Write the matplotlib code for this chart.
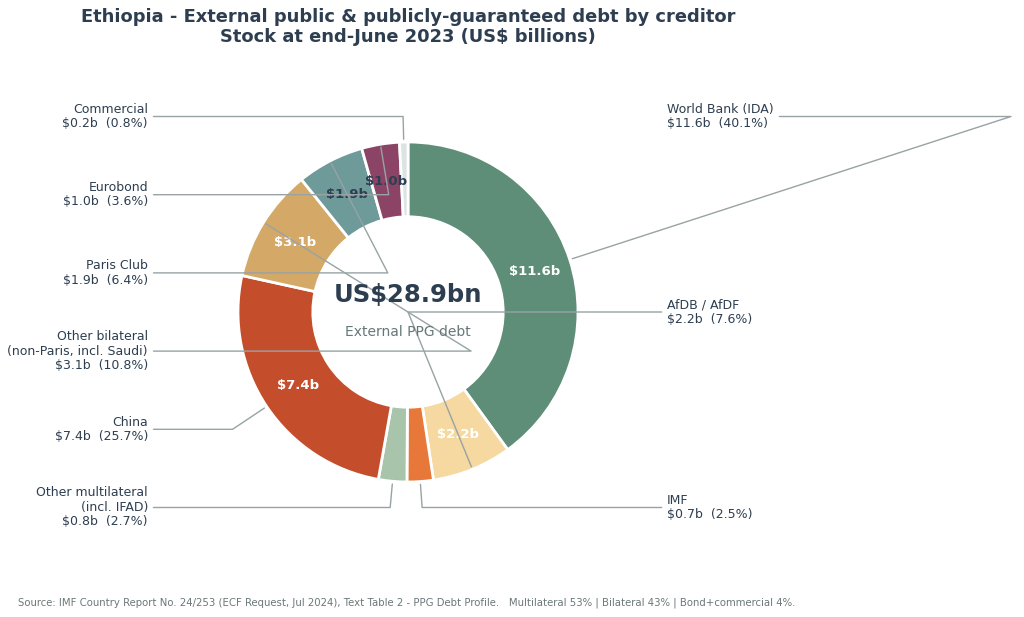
import numpy as np
import matplotlib.pyplot as plt

# data
creditors = ['World Bank (IDA)', 'AfDB / AfDF', 'IMF', 'Other multilateral\n(incl. IFAD)',
             'China', 'Other bilateral\n(non-Paris, incl. Saudi)', 'Paris Club', 'Eurobond', 'Commercial']
values = [11.6, 2.2, 0.7, 0.8, 7.4, 3.1, 1.9, 1.0, 0.2]
shares = [40.1, 7.6, 2.5, 2.7, 25.7, 10.8, 6.4, 3.6, 0.8]
colors = ['#5e8e77', '#f5d9a0', '#e8773a', '#a8c5ac', '#c44e2c', '#d4a968', '#6f9a9a', '#8b4466', '#dde3e3']
total = 28.9

dark = '#2d3e50'
line_col = '#97a3a4'

fig = plt.figure(figsize=(10.24, 6.17), dpi=100)
ax = fig.add_axes([0, 0, 1, 1])

wedges, _ = ax.pie(shares, colors=colors, startangle=90, counterclock=False, radius=1,
                   wedgeprops=dict(width=0.44, edgecolor='white', linewidth=2))

# scale: 170 px per unit, center at (408, 312)
ax.set_xlim(-408 / 170, (1024 - 408) / 170)
ax.set_ylim(-(617 - 312) / 170, 312 / 170)
ax.set_aspect('equal')
ax.axis('off')

# inner value labels
for i, w in enumerate(wedges):
    ang = np.deg2rad((w.theta1 + w.theta2) / 2)
    if shares[i] < 3:
        continue
    tc = dark if shares[i] < 7 else 'white'
    ax.text(0.78 * np.cos(ang), 0.78 * np.sin(ang), f'${values[i]:.1f}b',
            ha='center', va='center', fontsize=9.5, fontweight='bold', color=tc)

# outer labels with leader lines
left_idx = [8, 7, 6, 5, 4, 3]
right_idx = [0, 1, 2]
pos = {}
for k, y in zip(left_idx, np.linspace(1.15, -1.15, 6)):
    pos[k] = (-1.53, y, 'right')
for k, y in zip(right_idx, np.linspace(1.15, -1.15, 3)):
    pos[k] = (1.525, y, 'left')

for i, w in enumerate(wedges):
    a = (w.theta1 + w.theta2) / 2
    x, y = np.cos(np.deg2rad(a)), np.sin(np.deg2rad(a))
    tx, ty, ha = pos[i]
    ax.annotate(f'{creditors[i]}\n${values[i]:.1f}b  ({shares[i]:.1f}%)',
                xy=(x, y), xytext=(tx, ty), ha=ha, va='center',
                fontsize=9, color=dark, linespacing=1.15,
                arrowprops=dict(arrowstyle='-', color=line_col, lw=1,
                                connectionstyle=f'angle,angleA=0,angleB={a}'))

# centre text
ax.text(0, 0.1, 'US$28.9bn', ha='center', va='center', fontsize=17.5, fontweight='bold', color=dark)
ax.text(0, -0.12, 'External PPG debt', ha='center', va='center', fontsize=10, color='#66777a')

ax.text(0, (312 - 27) / 170,
        'Ethiopia - External public & publicly-guaranteed debt by creditor\nStock at end-June 2023 (US$ billions)',
        ha='center', va='center', fontsize=12.9, fontweight='bold', color=dark)

fig.text(18 / 1024, 1 - 603 / 617,
         'Source: IMF Country Report No. 24/253 (ECF Request, Jul 2024), Text Table 2 - PPG Debt Profile.   '
         'Multilateral 53% | Bilateral 43% | Bond+commercial 4%.',
         ha='left', va='center', fontsize=7.3, color='#6b7778')

fig.savefig('out.png', dpi=100)
